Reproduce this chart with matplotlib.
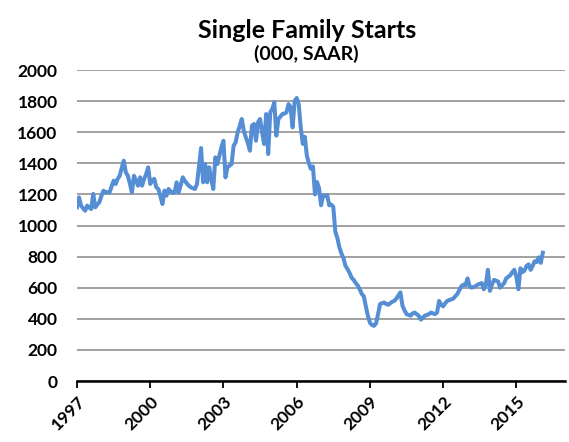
"""Single family housing starts, monthly SAAR (thousands), 1997 through Feb 2016."""

import matplotlib
matplotlib.use("Agg")
import matplotlib.pyplot as plt
import numpy as np

START_YEAR = 1997

# monthly values, one list per year
y1997 = [1117, 1181, 1128, 1110, 1095, 1128, 1115, 1106, 1203, 1117, 1135, 1150]
y1998 = [1190, 1224, 1213, 1215, 1213, 1250, 1288, 1267, 1300, 1320, 1370, 1417]
y1999 = [1342, 1320, 1270, 1213, 1320, 1290, 1256, 1310, 1256, 1300, 1330, 1374]
y2000 = [1267, 1290, 1300, 1245, 1235, 1190, 1138, 1224, 1192, 1235, 1220, 1210]
y2001 = [1213, 1278, 1213, 1260, 1310, 1288, 1270, 1256, 1245, 1240, 1235, 1267]
y2002 = [1380, 1498, 1278, 1395, 1278, 1374, 1300, 1235, 1438, 1395, 1450, 1503]
y2003 = [1545, 1310, 1374, 1385, 1395, 1513, 1535, 1600, 1640, 1685, 1610, 1567]
y2004 = [1530, 1481, 1642, 1653, 1545, 1664, 1685, 1600, 1524, 1717, 1460, 1728]
y2005 = [1750, 1792, 1578, 1685, 1700, 1717, 1720, 1728, 1781, 1760, 1631, 1800]
y2006 = [1820, 1780, 1630, 1525, 1570, 1450, 1400, 1365, 1380, 1200, 1280, 1240]
y2007 = [1130, 1195, 1190, 1195, 1130, 1135, 1120, 960, 920, 860, 820, 790]
y2008 = [740, 720, 695, 665, 650, 630, 615, 590, 560, 545, 480, 420]
y2009 = [375, 360, 355, 370, 430, 495, 500, 505, 495, 490, 500, 510]
y2010 = [515, 530, 550, 570, 485, 455, 430, 425, 420, 435, 440, 430]
y2011 = [420, 395, 405, 420, 425, 430, 440, 435, 430, 440, 515, 490]
y2012 = [480, 500, 515, 520, 525, 530, 545, 560, 585, 610, 620, 615]
y2013 = [660, 610, 600, 605, 610, 620, 625, 630, 590, 620, 715, 580]
y2014 = [620, 650, 645, 640, 600, 615, 630, 660, 670, 680, 700, 715]
y2015 = [670, 590, 725, 700, 710, 740, 750, 715, 740, 770, 765, 795]
y2016 = [760, 825]

starts = (y1997 + y1998 + y1999 + y2000 + y2001 + y2002 + y2003 + y2004 + y2005
          + y2006 + y2007 + y2008 + y2009 + y2010 + y2011 + y2012 + y2013
          + y2014 + y2015 + y2016)
t = START_YEAR + np.arange(len(starts)) / 12.0

xticks = [1997, 2000, 2003, 2006, 2009, 2012, 2015]
yticks = list(range(0, 2001, 200))

plt.rcParams["font.family"] = ["Lato", "DejaVu Sans"]
plt.rcParams["font.weight"] = "bold"

fig = plt.figure(figsize=(5.69, 4.42), dpi=100)
ax = fig.add_axes([0.1353, 0.138, 0.858, 0.7036])

ax.plot(t, starts, color="#558ED5", lw=2.9, solid_joinstyle="round")

ax.set_xlim(1997, 2017)
ax.set_ylim(0, 2000)
ax.set_xticks(xticks)
ax.set_xticklabels([str(x) for x in xticks], rotation=45, ha="right",
                   rotation_mode="anchor", fontsize=12.5, fontweight="bold")
ax.set_yticks(yticks)
ax.set_yticklabels([str(y) for y in yticks], fontsize=12.5, fontweight="bold")

ax.grid(axis="y", color="#9a9a9a", lw=1.3)
ax.set_axisbelow(True)
for s in ("top", "right", "left"):
    ax.spines[s].set_visible(False)
ax.spines["bottom"].set_color("black")
ax.spines["bottom"].set_linewidth(1.8)
ax.tick_params(axis="x", direction="out", length=5, width=1.3, pad=4)
ax.tick_params(axis="y", length=0, pad=14)

fig.text(0.54, 0.932, "Single Family Starts", ha="center", va="center",
         fontsize=18, fontweight="bold")
fig.text(0.538, 0.877, "(000, SAAR)", ha="center", va="center",
         fontsize=14, fontweight="bold")

fig.savefig("out.png", dpi=100)
